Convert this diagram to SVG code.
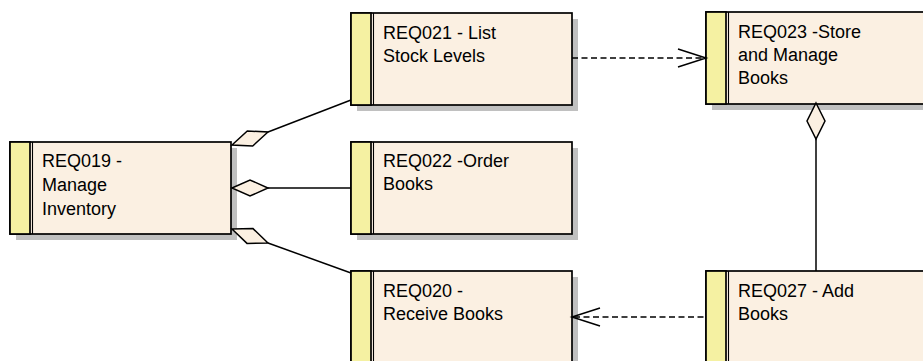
<svg xmlns="http://www.w3.org/2000/svg" width="923" height="361" viewBox="0 0 923 361">
  <defs>
    <style>
      .shadow { fill: #c0c0c0; }
      .body { fill: #fbf0e2; stroke: #000; stroke-width: 1.7; }
      .stripe { fill: #f5f1a2; stroke: #000; stroke-width: 1.7; }
      .sep { stroke: #000; stroke-width: 1.1; }
      .label { font-family: "Liberation Sans", Arial, sans-serif; font-size: 18px; fill: #000; }
      .link { fill: none; stroke: #000; stroke-width: 1.5; }
      .dash { stroke-dasharray: 6 3.5; }
      .diamond { fill: #fbf0e2; stroke: #000; stroke-width: 1.5; stroke-linejoin: miter; }
    </style>
    <!-- requirement box: shadow, body, left stripe and double divider -->
    <g id="req-box">
      <rect class="shadow" x="6" y="6" width="221" height="92"/>
      <rect class="body" x="0" y="0" width="221" height="92"/>
      <rect class="stripe" x="0" y="0" width="20" height="92"/>
      <line class="sep" x1="22.5" y1="0" x2="22.5" y2="92"/>
    </g>
  </defs>

  <rect width="923" height="361" fill="#fff"/>

  <g id="REQ019">
    <use href="#req-box" x="10" y="142"/>
    <text class="label" x="42" y="167">REQ019 -</text>
    <text class="label" x="42" y="191">Manage</text>
    <text class="label" x="42" y="215">Inventory</text>
  </g>

  <g id="REQ021">
    <use href="#req-box" x="351" y="13"/>
    <text class="label" x="383" y="39">REQ021 - List</text>
    <text class="label" x="383" y="62">Stock Levels</text>
  </g>

  <g id="REQ022">
    <use href="#req-box" x="351" y="142"/>
    <text class="label" x="383" y="167">REQ022 -Order</text>
    <text class="label" x="383" y="190">Books</text>
  </g>

  <g id="REQ020">
    <use href="#req-box" x="351" y="271"/>
    <text class="label" x="383" y="297">REQ020 -</text>
    <text class="label" x="383" y="320">Receive Books</text>
  </g>

  <g id="REQ023">
    <use href="#req-box" x="706" y="12"/>
    <text class="label" x="738" y="38">REQ023 -Store</text>
    <text class="label" x="738" y="61">and Manage</text>
    <text class="label" x="738" y="84">Books</text>
  </g>

  <g id="REQ027">
    <use href="#req-box" x="706" y="271"/>
    <text class="label" x="738" y="297">REQ027 - Add</text>
    <text class="label" x="738" y="320">Books</text>
  </g>

  <!-- connectors, drawn over the box shadows -->
  <g id="connectors">
    <!-- aggregations from REQ019 -->
    <polyline class="link" points="268,132 351,100"/>
    <polygon class="diamond" points="232,145 247.3,131 268,132 252.7,146"/>
    <polyline class="link" points="268,188 351,188"/>
    <polygon class="diamond" points="232,188 250,180 268,188 250,196"/>
    <polyline class="link" points="268,243 351,273"/>
    <polygon class="diamond" points="232,229 253,228.6 268,243 247,243.4"/>
    <!-- aggregation REQ023 to REQ027 -->
    <polyline class="link" points="816,139 816,271"/>
    <polygon class="diamond" points="816,103 825,121 816,139 807,121"/>
    <!-- dependencies -->
    <polyline class="link dash" points="572,58 705,58"/>
    <polyline class="link" points="678,49 706,58 678,67"/>
    <polyline class="link dash" points="574,317 705,317"/>
    <polyline class="link" points="600,308 572,317 600,326"/>
  </g>
</svg>
